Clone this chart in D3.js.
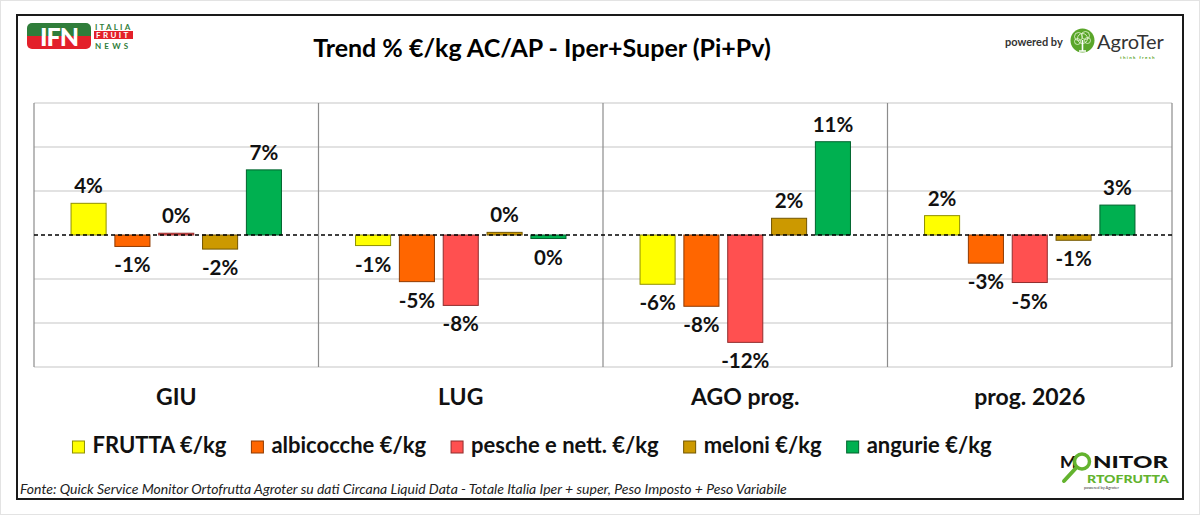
<!DOCTYPE html>
<html>
<head>
<meta charset="utf-8">
<script src="https://cdn.jsdelivr.net/npm/d3@7"></script>
<style>
  body { margin: 0; background: #fff; }
  text { font-family: Lato, "Open Sans", sans-serif; }
</style>
</head>
<body>
<div id="chart"></div>
<script>
// data (values in %)
var categories = ["GIU", "LUG", "AGO prog.", "prog. 2026"];
var seriesNames = ["FRUTTA €/kg", "albicocche €/kg", "pesche e nett. €/kg", "meloni €/kg", "angurie €/kg"];
var frutta     = [3.6, -1.2, -5.6, 2.2];
var albicocche = [-1.3, -5.3, -8.1, -3.2];
var pesche     = [0.2, -8.0, -12.2, -5.4];
var meloni     = [-1.6, 0.3, 1.9, -0.6];
var angurie    = [7.4, -0.4, 10.6, 3.4];
var colors = ["#FFFF00", "#FF6600", "#FF5050", "#CC9900", "#00B050"];
var yTicks = [-15, -10, -5, 0, 5, 10, 15];

var allSeries = [frutta, albicocche, pesche, meloni, angurie];

// build rows for drawing
var rows = [];
categories.forEach(function(c, i) {
  seriesNames.forEach(function(s, j) {
    rows.push({cat: c, series: s, value: allSeries[j][i], color: colors[j]});
  });
});

var W = 1200, H = 515;
var plot = {left: 34, right: 1172, top: 103, bottom: 367};

var svg = d3.select("#chart")
  .append("svg")
    .attr("width", W)
    .attr("height", H);

// page edge + frame
svg.append("rect")
  .attr("x", 0.5).attr("y", 0.5).attr("width", W - 1).attr("height", H - 1)
  .attr("fill", "#fff").attr("stroke", "#e3e3e3");
svg.append("rect")
  .attr("x", 17).attr("y", 15).attr("width", 1166).attr("height", 484)
  .attr("fill", "#fff").attr("stroke", "#1a1a1a").attr("stroke-width", 2);

// scales
var x0 = d3.scaleBand()
  .domain(categories)
  .range([plot.left, plot.right])
  .padding(0);

var x1 = d3.scaleBand()
  .domain(seriesNames)
  .range([0, x0.bandwidth()])
  .paddingInner(0.2)
  .paddingOuter(0.845);

var y = d3.scaleLinear()
  .domain([-15, 15])
  .range([plot.bottom, plot.top]);

// gridlines
svg.append("g")
  .selectAll("line")
  .data(yTicks.filter(function(t) { return t !== 0; }))
  .enter().append("line")
    .attr("x1", plot.left).attr("x2", plot.right)
    .attr("y1", function(d) { return y(d); })
    .attr("y2", function(d) { return y(d); })
    .attr("stroke", "#d9d9d9")
    .attr("stroke-width", 1.5);

// group separators (incl. plot sides)
var edges = categories.map(function(c) { return x0(c); }).concat([plot.right]);
svg.append("g")
  .selectAll("line")
  .data(edges)
  .enter().append("line")
    .attr("x1", function(d) { return d; })
    .attr("x2", function(d) { return d; })
    .attr("y1", plot.top).attr("y2", plot.bottom)
    .attr("stroke", "#8c8c8c")
    .attr("stroke-width", 1.2);

// bars
svg.append("g")
  .selectAll("rect")
  .data(rows)
  .enter().append("rect")
    .attr("x", function(d) { return x0(d.cat) + x1(d.series); })
    .attr("y", function(d) { return y(Math.max(0, d.value)); })
    .attr("width", x1.bandwidth())
    .attr("height", function(d) { return Math.abs(y(d.value) - y(0)); })
    .attr("fill", function(d) { return d.color; })
    .attr("stroke", function(d) { return d3.color(d.color).darker(1.6); })
    .attr("stroke-width", 1);

// zero line
svg.append("line")
  .attr("x1", plot.left).attr("x2", plot.right)
  .attr("y1", y(0)).attr("y2", y(0))
  .attr("stroke", "#000")
  .attr("stroke-width", 1.3)
  .attr("stroke-dasharray", "4,3");

// value labels
svg.append("g")
  .selectAll("text")
  .data(rows)
  .enter().append("text")
    .attr("x", function(d) { return x0(d.cat) + x1(d.series) + x1.bandwidth() / 2; })
    .attr("y", function(d) { return d.value >= 0 ? y(d.value) - 10 : y(d.value) + 26; })
    .attr("text-anchor", "middle")
    .attr("font-size", 20.5)
    .attr("font-weight", "bold")
    .attr("fill", "#111")
    .text(function(d) { return Math.round(d.value) + 0 + "%"; });

// category labels
svg.append("g")
  .selectAll("text")
  .data(categories)
  .enter().append("text")
    .attr("x", function(d) { return x0(d) + x0.bandwidth() / 2; })
    .attr("y", 405)
    .attr("text-anchor", "middle")
    .attr("font-size", 23)
    .attr("font-weight", "bold")
    .attr("fill", "#111")
    .text(function(d) { return d; });

// title
svg.append("text")
  .attr("x", 542).attr("y", 57)
  .attr("text-anchor", "middle")
  .attr("font-size", 25)
  .attr("font-weight", "bold")
  .attr("fill", "#000")
  .text("Trend % €/kg AC/AP - Iper+Super (Pi+Pv)");

// legend, laid out left to right then centred
var legend = svg.append("g");
var lx = 0;
seriesNames.forEach(function(s, j) {
  var item = legend.append("g").attr("transform", "translate(" + lx + ",0)");
  item.append("rect")
    .attr("x", 0).attr("y", -12).attr("width", 12).attr("height", 12)
    .attr("fill", colors[j])
    .attr("stroke", d3.color(colors[j]).darker(1.6))
    .attr("stroke-width", 1);
  var t = item.append("text")
    .attr("x", 20).attr("y", 0)
    .attr("font-size", 22)
    .attr("font-weight", "bold")
    .attr("fill", "#111")
    .text(s);
  lx += 20 + t.node().getComputedTextLength() + 25;
});
var legendW = lx - 25;
legend.attr("transform", "translate(" + (532 - legendW / 2) + ",453)");

// source note
svg.append("text")
  .attr("x", 20).attr("y", 494)
  .attr("font-size", 14)
  .attr("font-style", "italic")
  .attr("fill", "#222")
  .text("Fonte: Quick Service Monitor Ortofrutta Agroter su dati Circana Liquid Data - Totale Italia Iper + super, Peso Imposto + Peso Variabile");

// IFN logo
var ifn = svg.append("g");
ifn.append("clipPath").attr("id", "ifnclip")
  .append("rect").attr("x", 27).attr("y", 23).attr("width", 64).attr("height", 26).attr("rx", 5);
ifn.append("rect").attr("x", 27).attr("y", 23).attr("width", 64).attr("height", 13)
  .attr("fill", "#2f7d3a").attr("clip-path", "url(#ifnclip)");
ifn.append("rect").attr("x", 27).attr("y", 36).attr("width", 64).attr("height", 13)
  .attr("fill", "#e3202a").attr("clip-path", "url(#ifnclip)");
ifn.append("text").attr("x", 59).attr("y", 46)
  .attr("text-anchor", "middle").attr("font-size", 25).attr("font-weight", 900)
  .attr("fill", "#fff").attr("letter-spacing", -1).text("IFN");
ifn.append("text").attr("x", 95).attr("y", 29.5)
  .attr("font-size", 8).attr("font-weight", "bold").attr("fill", "#2f7d3a")
  .attr("letter-spacing", 2.2).text("ITALIA");
ifn.append("rect").attr("x", 94).attr("y", 31).attr("width", 39).attr("height", 8).attr("fill", "#e3202a");
ifn.append("text").attr("x", 96).attr("y", 38.3)
  .attr("font-size", 8).attr("font-weight", "bold").attr("fill", "#fff")
  .attr("letter-spacing", 2.4).text("FRUIT");
ifn.append("text").attr("x", 95).attr("y", 48.5)
  .attr("font-size", 8).attr("font-weight", "bold").attr("fill", "#2f7d3a")
  .attr("letter-spacing", 3.2).text("NEWS");

// AgroTer logo
var agro = svg.append("g");
agro.append("text").attr("x", 1005).attr("y", 46)
  .attr("font-size", 11).attr("font-weight", "bold").attr("fill", "#333").text("powered by");
agro.append("circle").attr("cx", 1082.5).attr("cy", 40.5).attr("r", 12).attr("fill", "#5aa62a");
[[-4, -4, 4], [3, -5, 4], [0, -2, 5], [5, 0, 3], [-5, 1, 3]].forEach(function(c) {
  agro.append("circle").attr("cx", 1082.5 + c[0]).attr("cy", 40.5 + c[1]).attr("r", c[2])
    .attr("fill", "none").attr("stroke", "#e8f5d8").attr("stroke-width", 0.8);
});
agro.append("path").attr("d", "M1082.5,40 L1082.5,51 M1079,51 L1086,51")
  .attr("stroke", "#fff").attr("stroke-width", 1.6).attr("fill", "none");
agro.append("text").attr("x", 1097).attr("y", 49)
  .attr("font-family", "'Open Sans', sans-serif").attr("font-size", 20).attr("fill", "#333")
  .text("AgroTer");
agro.append("text").attr("x", 1120).attr("y", 58.5)
  .attr("font-size", 4.5).attr("font-weight", "bold").attr("fill", "#5aa62a")
  .attr("letter-spacing", 1.3).text("think fresh");

// Monitor Ortofrutta logo
var mon = svg.append("g");
mon.append("text").attr("x", 1060).attr("y", 468)
  .attr("font-size", 17.5).attr("font-weight", 900).attr("fill", "#111").text("M");
mon.append("text").attr("x", 1093).attr("y", 468)
  .attr("font-size", 17.5).attr("font-weight", 900).attr("fill", "#111")
  .attr("textLength", 75).attr("lengthAdjust", "spacingAndGlyphs").text("NITOR");
mon.append("circle").attr("cx", 1082).attr("cy", 461.5).attr("r", 7.5)
  .attr("fill", "none").attr("stroke", "#63b32e").attr("stroke-width", 3.5);
mon.append("line").attr("x1", 1076).attr("y1", 468).attr("x2", 1064).attr("y2", 481)
  .attr("stroke", "#63b32e").attr("stroke-width", 4).attr("stroke-linecap", "round");
mon.append("text").attr("x", 1087).attr("y", 483)
  .attr("font-size", 11).attr("font-weight", 900).attr("fill", "#63b32e")
  .attr("textLength", 82).attr("lengthAdjust", "spacingAndGlyphs").text("RTOFRUTTA");
mon.append("text").attr("x", 1084).attr("y", 489)
  .attr("font-size", 4).attr("fill", "#333").text("powered by Agroter");
</script>
</body>
</html>
